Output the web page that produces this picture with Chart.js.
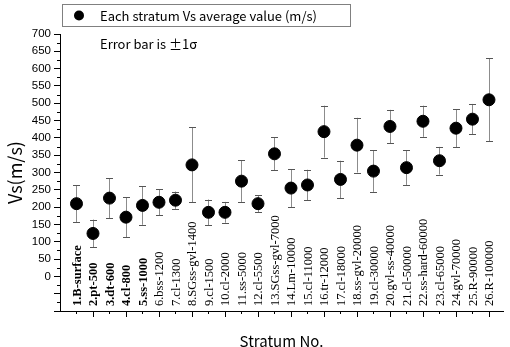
<!DOCTYPE html>
<html>
<head>
<meta charset="utf-8">
<script src="https://cdn.jsdelivr.net/npm/chart.js@4/dist/chart.umd.min.js"></script>
<style>
  html, body { margin: 0; padding: 0; background: #fff; }
  #wrap { width: 510px; height: 347px; }
</style>
</head>
<body>
<div id="wrap"><canvas id="vsChart" width="510" height="347"></canvas></div>
<script>
// stratum names (bold ones are 1-5 in the source figure)
const strata = ['1.B-surface','2.pt-500','3.dt-600','4.cl-800','5.ss-1000','6.bss-1200','7.cl-1300',
  '8.SGss-gvl-1400','9.cl-1500','10.cl-2000','11.ss-5000','12.cl-5500','13.SGss-gvl-7000',
  '14.Lm-10000','15.cl-11000','16.tr-12000','17.cl-18000','18.ss-gvl-20000','19.cl-30000',
  '20.gvl-ss-40000','21.cl-50000','22.ss-hard-60000','23.cl-65000','24.gvl-70000','25.R-90000','26.R-100000'];
const boldCount = 5;

// average Vs (m/s) and 1 sigma
const vsAvg = [210,124,226,171,205,214,220,322,185,185,275,210,354,255,264,418,280,379,304,433,314,448,334,428,454,510];
const vsSigma = [53,40,58,58,56,38,25,108,37,30,60,25,48,55,44,75,54,79,60,48,50,45,40,55,44,120];

const yTicks = { min: -100, max: 700, step: 50 };

const jpFont = '"Noto Sans CJK JP", "Noto Sans", sans-serif';

// error bars behind the points
const errorBars = {
  id: 'errorBars',
  beforeDatasetsDraw(chart) {
    const ctx = chart.ctx, xs = chart.scales.x, ys = chart.scales.y;
    ctx.save();
    ctx.lineWidth = 1;
    vsAvg.forEach((v, i) => {
      const x = Math.round(xs.getPixelForValue(i + 1)) + 0.5;
      const top = ys.getPixelForValue(v + vsSigma[i]);
      const bot = ys.getPixelForValue(v - vsSigma[i]);
      ctx.strokeStyle = '#8c8c8c';
      ctx.beginPath(); ctx.moveTo(x, top); ctx.lineTo(x, bot); ctx.stroke();
      ctx.strokeStyle = '#555';
      ctx.beginPath();
      ctx.moveTo(x - 3.5, Math.round(top) + 0.5); ctx.lineTo(x + 3.5, Math.round(top) + 0.5);
      ctx.moveTo(x - 3.5, Math.round(bot) + 0.5); ctx.lineTo(x + 3.5, Math.round(bot) + 0.5);
      ctx.stroke();
    });
    ctx.restore();
  }
};

// vertical stratum names, ticks and the boxed legend
const extras = {
  id: 'extras',
  afterDraw(chart) {
    const ctx = chart.ctx, xs = chart.scales.x, ys = chart.scales.y, a = chart.chartArea;
    ctx.save();
    ctx.strokeStyle = '#000';
    ctx.lineWidth = 1;
    // x ticks (long on even numbers)
    ctx.beginPath();
    strata.forEach((s, i) => {
      const x = Math.round(xs.getPixelForValue(i + 1)) + 0.5;
      const len = (i + 1) % 2 === 0 ? 6 : 3;
      ctx.moveTo(x, a.bottom); ctx.lineTo(x, a.bottom + len);
    });
    // y minor ticks
    for (let v = yTicks.min + 25; v < yTicks.max; v += 50) {
      const y = Math.round(ys.getPixelForValue(v)) + 0.5;
      ctx.moveTo(a.left - 3, y); ctx.lineTo(a.left, y);
    }
    ctx.stroke();

    // stratum labels
    ctx.fillStyle = '#000';
    ctx.textAlign = 'left';
    ctx.textBaseline = 'middle';
    strata.forEach((s, i) => {
      const x = xs.getPixelForValue(i + 1);
      ctx.save();
      ctx.translate(x + 1, a.bottom - 5);
      ctx.rotate(-Math.PI / 2);
      ctx.font = (i < boldCount ? 'bold ' : '') + '12.5px "Liberation Serif", "Times New Roman", serif';
      ctx.fillText(s, 0, 0);
      ctx.restore();
    });

    // legend box
    ctx.strokeStyle = '#808080';
    ctx.strokeRect(62.5, 4.5, 288, 22);
    ctx.beginPath();
    ctx.arc(79, 15.5, 5, 0, Math.PI * 2);
    ctx.fill();
    ctx.font = '13px ' + jpFont;
    ctx.fillText('Each stratum Vs average value (m/s)', 100, 16);
    ctx.fillText('Error bar is \u00b11\u03c3', 100, 44);
    ctx.restore();
  }
};

new Chart(document.getElementById('vsChart'), {
  type: 'scatter',
  data: {
    datasets: [{
      label: 'Each stratum Vs average value (m/s)',
      data: vsAvg.map((v, i) => ({ x: i + 1, y: v })),
      pointRadius: 6,
      pointHoverRadius: 6,
      backgroundColor: '#000',
      borderColor: '#000',
      showLine: false
    }]
  },
  options: {
    responsive: false,
    animation: false,
    devicePixelRatio: 1,
    layout: { padding: { top: 34, left: 0, right: 0, bottom: 0 } },
    plugins: { legend: { display: false }, tooltip: { enabled: false } },
    scales: {
      x: {
        type: 'linear',
        min: 0,
        max: 26.85,
        ticks: { display: false },
        grid: { display: false },
        border: { display: true, color: '#000', width: 1 },
        title: { display: true, text: 'Stratum No.', color: '#000', font: { family: jpFont, size: 15 }, padding: { top: 0, bottom: -3 } },
        afterFit: s => { s.height = 36; }
      },
      y: {
        type: 'linear',
        min: yTicks.min,
        max: yTicks.max,
        ticks: {
          stepSize: yTicks.step,
          color: '#000',
          padding: 3,
          font: { family: '"Liberation Sans", Arial, sans-serif', size: 11.5 },
          callback: v => (v < 0 ? '' : v)
        },
        grid: { drawOnChartArea: false, tickLength: 6, color: '#000' },
        border: { display: true, color: '#000', width: 1 },
        title: { display: true, text: 'Vs(m/s)', color: '#000', font: { family: jpFont, size: 18 }, padding: { top: 4, bottom: 0 } },
        afterFit: s => { s.width = 60; }
      }
    }
  },
  plugins: [errorBars, extras]
});
</script>
</body>
</html>
